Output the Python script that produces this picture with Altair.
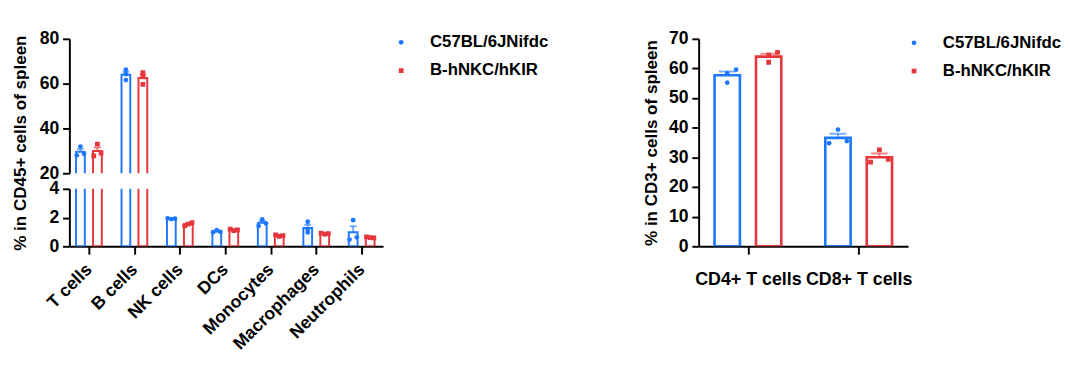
import json
import altair as alt
import pandas as pd

FONT = "Liberation Sans"

groups = ["C57BL/6JNifdc", "B-hNKC/hKIR"]
group_colors = ["#1E78FF", "#E6373C"]
group_shapes = ["circle", "square"]

# Left panel: % in CD45+ cells of spleen (3 mice per group)
cats_left = ["T cells", "B cells", "NK cells", "DCs", "Monocytes", "Macrophages", "Neutrophils"]
left_c57 = [[31.9, 28.0, 28.7], [66.2, 64.2, 61.6], [1.95, 1.90, 1.92], [1.12, 0.98, 1.00],
            [1.87, 1.42, 1.60], [1.71, 1.15, 0.97], [1.82, 0.47, 0.63]]
left_c57_jit = [[0, -1, 1], [0, 0, 0], [-1, 0, 1], [0, -1, 1], [0, -1, 1], [0, 0, 0], [0, -1, 1]]
left_hnkc = [[33.0, 27.8, 29.0], [64.9, 63.0, 59.7], [1.65, 1.42, 1.55], [1.20, 1.10, 1.15],
             [0.80, 0.70, 0.75], [0.92, 0.85, 0.88], [0.65, 0.60, 0.58]]
left_hnkc_jit = [[0, -1, 1], [0, 0, 0], [1, -1, 0], [-1, 0, 1], [-1, 0, 1], [-1, 0, 1], [-1, 0, 1]]
left_top_ticks = [20, 40, 60, 80]
left_bottom_ticks = [0, 2, 4]

# Right panel: % in CD3+ cells of spleen
cats_right = ["CD4+ T cells", "CD8+ T cells"]
right_c57 = [[58.3, 59.6, 55.2], [34.8, 39.4, 35.5]]
right_c57_jit = [[0, 1, 0], [-1, 0, 1]]
right_hnkc = [[64.5, 65.4, 62.1], [28.4, 32.5, 29.3]]
right_hnkc_jit = [[0, 1, 0], [-1, 0, 1]]
right_ticks = [0, 10, 20, 30, 40, 50, 60, 70]


def to_frame(c57, c57_jit, hnkc, hnkc_jit):
    rows = []
    for g, vals, jits in ((groups[0], c57, c57_jit), (groups[1], hnkc, hnkc_jit)):
        for i, (vs, js) in enumerate(zip(vals, jits)):
            for v, j in zip(vs, js):
                rows.append({"idx": i, "group": g, "value": v, "jit": j})
    return pd.DataFrame(rows)


OFF = 0.187
JIT = 0.08
CAP = 0.075
gx_expr = f"datum.idx + (datum.group === '{groups[0]}' ? {-OFF} : {OFF})"

color_scale = alt.Scale(domain=groups, range=group_colors)
shape_scale = alt.Scale(domain=groups, range=group_shapes)


def make_legend(lx, ly):
    return alt.Legend(orient="none", legendX=lx, legendY=ly, title=None,
                      labelFont=FONT, labelFontSize=17.2, labelFontWeight="bold",
                      labelColor="black", symbolSize=24, labelOffset=21, symbolOpacity=1,
                      rowPadding=11, padding=0, symbolStrokeWidth=0)


def panel(df, xdomain, xaxis, ydomain, yaxis, width, height, bar_w, bar_sw, legend):
    def X(f):
        return alt.X(f, type="quantitative",
                     scale=alt.Scale(domain=xdomain, nice=False, zero=False, padding=0), axis=xaxis)

    def Y(f):
        return alt.Y(f, type="quantitative",
                     scale=alt.Scale(domain=ydomain, nice=False, zero=False, padding=0), axis=yaxis)

    def C():
        return alt.Color("group:N", scale=color_scale, legend=legend)

    base = alt.Chart(df)
    agg = (base.transform_aggregate(mean="mean(value)", se="stderr(value)", groupby=["idx", "group"])
           .transform_calculate(gx=gx_expr)
           .transform_calculate(top="datum.mean + datum.se")
           .transform_calculate(xl=f"datum.gx - {CAP}")
           .transform_calculate(xr=f"datum.gx + {CAP}"))
    bars = agg.mark_bar(width=bar_w, fill="white", strokeWidth=bar_sw, clip=True).encode(
        x=X("gx"), y=Y("mean"), y2=alt.datum(0),
        stroke=alt.Stroke("group:N", scale=color_scale, legend=None))
    err_v = agg.mark_rule(strokeWidth=2, opacity=0.6, clip=True).encode(
        x=X("gx"), y=Y("mean"), y2=alt.Y2("top:Q"), color=C())
    err_h = agg.mark_rule(strokeWidth=2, opacity=0.6, clip=True).encode(
        x=X("xl"), x2=alt.X2("xr:Q"), y=Y("top"), color=C())
    pts = (base.transform_calculate(gx=gx_expr)
           .transform_calculate(px=f"datum.gx + datum.jit * {JIT}")
           .mark_point(filled=True, size=24, opacity=1, clip=True)
           .encode(x=X("px"), y=Y("value"), color=C(),
                   shape=alt.Shape("group:N", scale=shape_scale, legend=legend)))
    return alt.layer(bars, err_v, err_h, pts).properties(width=width, height=height)


df_left = to_frame(left_c57, left_c57_jit, left_hnkc, left_hnkc_jit)
df_right = to_frame(right_c57, right_c57_jit, right_hnkc, right_hnkc_jit)

left_xdom = [-0.43, 6.47]
right_xdom = [-0.445, 1.446]

top_left = panel(
    df_left, left_xdom, None, [20, 80],
    alt.Axis(values=left_top_ticks, title="% in CD45+ cells of spleen", titleX=-41, titleY=106.6),
    322, 138, 9, 2, make_legend(332, -5))

bottom_left = panel(
    df_left, left_xdom,
    alt.Axis(values=list(range(len(cats_left))), labelExpr=f"{json.dumps(cats_left)}[datum.value]",
             labelAngle=-45, labelAlign="right", labelBaseline="middle", tickSize=8,
             labelPadding=13, labelFontSize=18, title=None),
    [0, 4], alt.Axis(values=left_bottom_ticks, title=None),
    322, 59, 9, 2, None)

right = panel(
    df_right, right_xdom,
    alt.Axis(values=list(range(len(cats_right))), labelExpr=f"{json.dumps(cats_right)}[datum.value]",
             labelAngle=0, labelAlign="center", labelBaseline="top", tickSize=8,
             labelPadding=17, labelFontSize=18.3, title=None),
    [0, 70], alt.Axis(values=right_ticks, title="% in CD3+ cells of spleen", titlePadding=8),
    215, 213, 26, 2.7, make_legend(212.5, -4.5))

left = alt.vconcat(top_left, bottom_left, spacing=16, bounds="flush").resolve_legend(
    color="independent", shape="independent")

chart = (alt.hconcat(left, right, spacing=96)
         .resolve_legend(color="independent", shape="independent")
         .properties(padding={"left": 3, "top": 18, "right": 0, "bottom": 0})
         .configure_axis(labelFont=FONT, labelFontSize=18, labelFontWeight="bold", labelColor="black",
                         titleFont=FONT, titleFontSize=17.5, titleFontWeight="bold", titleColor="black",
                         domainColor="black", domainWidth=2, tickColor="black", tickWidth=2,
                         tickSize=7, labelPadding=4, titlePadding=9, grid=False,
                         labelFlush=False, labelOverlap=False)
         .configure_view(stroke=None))

chart.save("out.html", embed_options={"renderer": "svg", "actions": False})
